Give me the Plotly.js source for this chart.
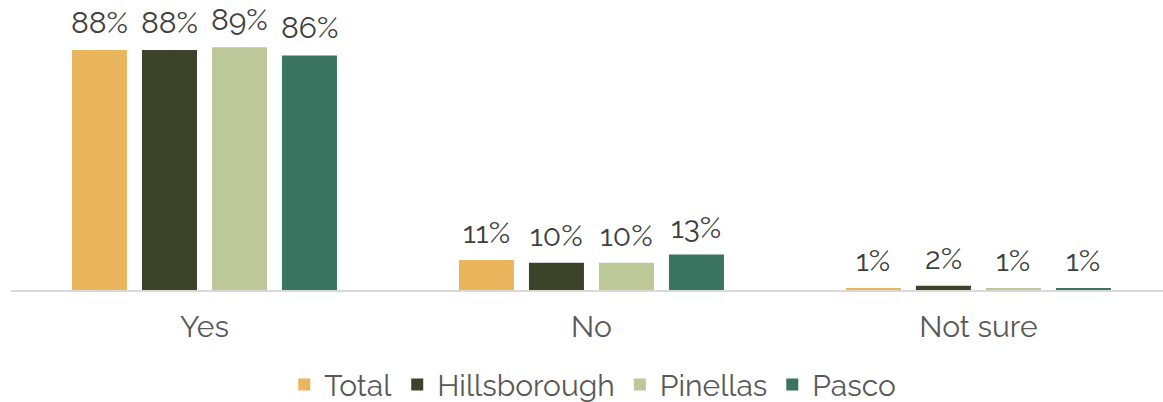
<!DOCTYPE html>
<html>
<head>
<meta charset="utf-8">
<script src="https://cdn.plot.ly/plotly-3.0.1.min.js"></script>
<style>html,body{margin:0;padding:0;background:#fff}#chart{width:1163px;height:402px}</style>
</head>
<body>
<div id="chart"></div>
<script>
const categories = ["Yes", "No", "Not sure"];
const seriesNames = ["Total", "Hillsborough", "Pinellas", "Pasco"];
const totalVals = [88, 11, 0.7];
const hillsboroughVals = [88, 10, 1.6];
const pinellasVals = [89, 10, 0.7];
const pascoVals = [86, 13, 0.7];
const colors = ["#EAB65D", "#3D4328", "#BCC897", "#3A7561"];

const allVals = [totalVals, hillsboroughVals, pinellasVals, pascoVals];
const FONT = "Raleway, Lato, 'Open Sans', sans-serif";

const traces = allVals.map((vals, i) => ({
  type: "bar",
  name: seriesNames[i],
  x: categories,
  y: vals,
  marker: {color: colors[i]},
  hoverinfo: "skip"
}));

// value labels placed above each bar
const slot = 70; // pixel slot per bar within a group
const annotations = [];
allVals.forEach((vals, i) => {
  vals.forEach((v, j) => {
    annotations.push({
      x: categories[j], y: v, xref: "x", yref: "y",
      text: Math.round(v) + "%",
      showarrow: false, yanchor: "bottom",
      xshift: (i - 1.5) * slot, yshift: 8,
      font: {family: FONT, size: 30, color: "#404040"}
    });
  });
});

const layout = {
  width: 1163, height: 402,
  margin: {l: 11, r: 0, t: 20, b: 112, autoexpand: false},
  paper_bgcolor: "#fff", plot_bgcolor: "#fff",
  barmode: "group", bargap: 0.2765, bargroupgap: 0.214,
  showlegend: true,
  legend: {orientation: "h", x: 0.505, xanchor: "center", y: -0.35, yanchor: "middle",
    font: {family: FONT, size: 30, color: "#595959"}, itemclick: false, traceorder: "normal"},
  xaxis: {range: [-0.5, 2.477], showline: true, linecolor: "#D9D9D9", linewidth: 2,
    ticks: "", ticklabelstandoff: 9, showgrid: false, zeroline: false, fixedrange: true, automargin: false,
    tickfont: {family: FONT, size: 30, color: "#595959"}},
  yaxis: {range: [0, 99], visible: false, showgrid: false, zeroline: false, fixedrange: true},
  annotations: annotations
};

Plotly.newPlot("chart", traces, layout, {displayModeBar: false, staticPlot: true});
</script>
</body>
</html>
